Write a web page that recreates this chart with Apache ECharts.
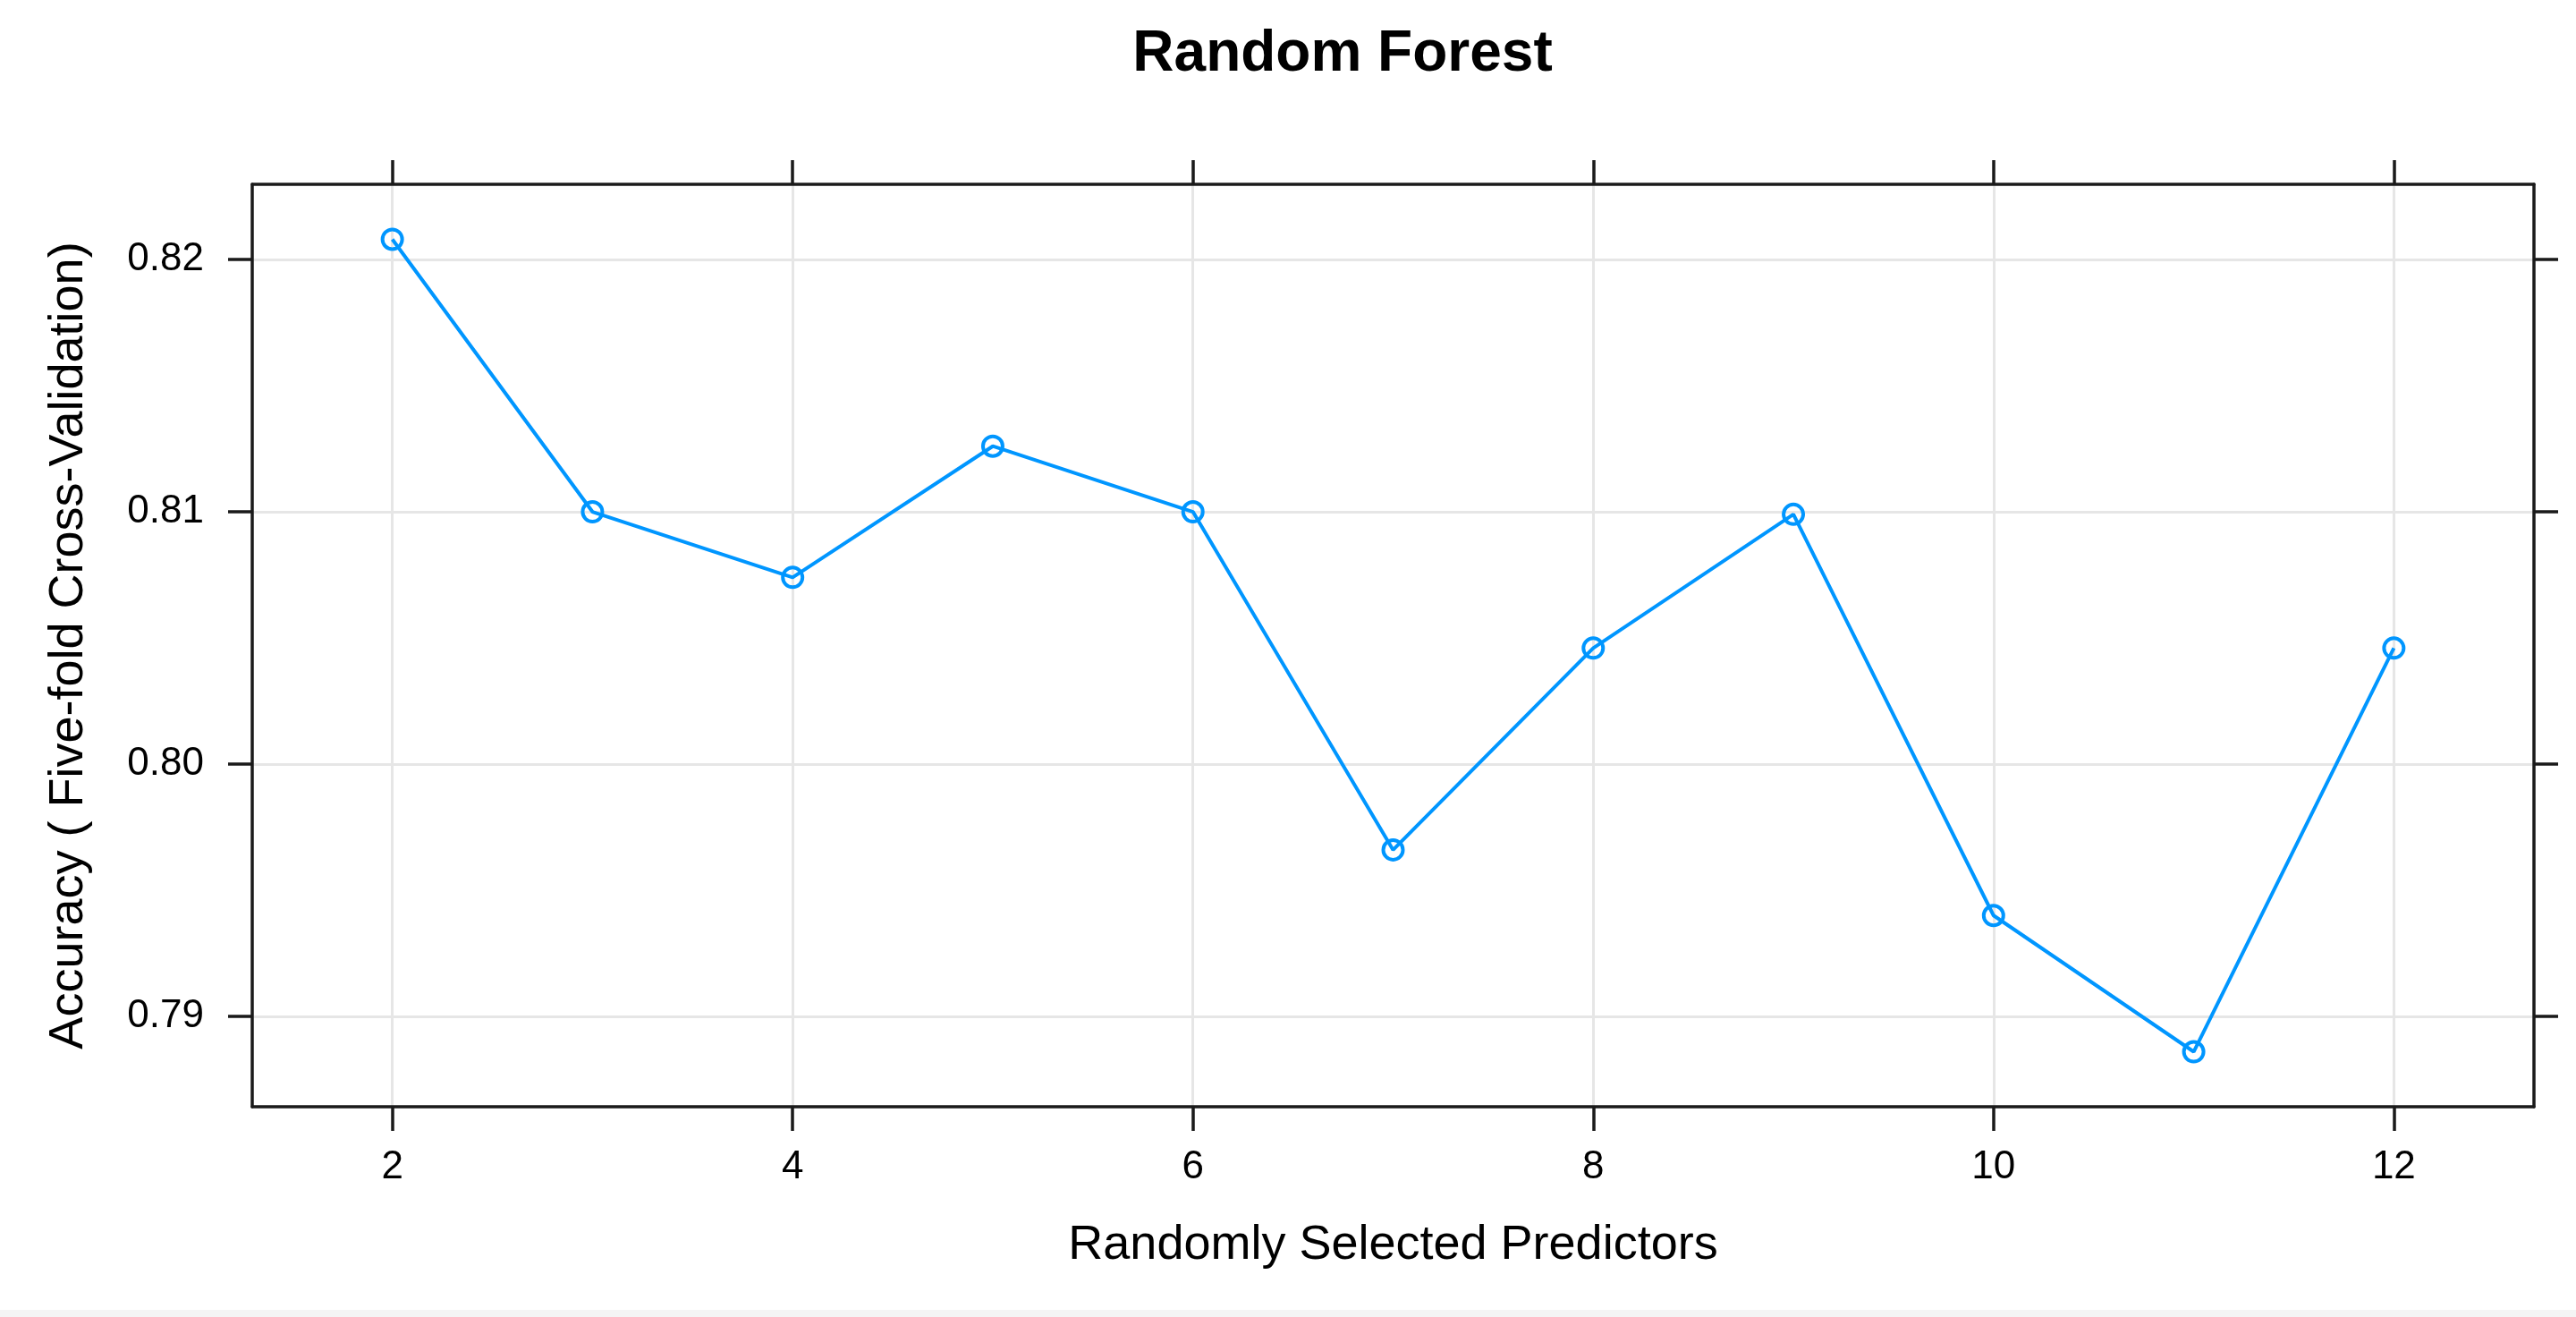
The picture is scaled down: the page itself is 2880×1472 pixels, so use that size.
<!DOCTYPE html>
<html>
<head>
<meta charset="utf-8">
<title>Random Forest</title>
<script src="https://cdn.jsdelivr.net/npm/echarts@6/dist/echarts.min.js"></script>
<style>
  html, body { margin: 0; padding: 0; background: #fff; }
  #main { width: 2880px; height: 1472px; }
</style>
</head>
<body>
<div id="main"></div>
<script>
// mtry values and CV accuracy
var predictors = [2, 3, 4, 5, 6, 7, 8, 9, 10, 11, 12];
var accuracy = [0.8208, 0.8100, 0.8074, 0.8126, 0.8100, 0.7966, 0.8046, 0.8099, 0.7940, 0.7886, 0.8046];
var xTicks = [2, 4, 6, 8, 10, 12];
var yTicks = [0.79, 0.80, 0.81, 0.82];

var FONT = '"Liberation Sans", Arial, Helvetica, sans-serif';
var lineColor = '#0096ff';

var seriesData = [];
for (var i = 0; i < predictors.length; i++) {
    seriesData.push([predictors[i], accuracy[i]]);
}

var boxLine = { show: true, onZero: false, lineStyle: { color: '#1a1a1a', width: 3.5 } };
var boxTick = { show: true, inside: false, length: 27, lineStyle: { color: '#1a1a1a', width: 3.5 } };

var myChart = echarts.init(document.getElementById('main'));
var option = {
    animation: false,
    backgroundColor: '#ffffff',
    title: {
        text: 'Random Forest',
        left: 1496,
        top: 24,
        textAlign: 'center',
        textStyle: { fontFamily: FONT, fontSize: 64, fontWeight: 'bold', color: '#000' }
    },
    grid: { left: 282, right: 47, top: 206, bottom: 235, containLabel: false },
    xAxis: [
        {
            type: 'value',
            position: 'bottom',
            min: 1.3,
            max: 12.7,
            name: 'Randomly Selected Predictors',
            nameLocation: 'middle',
            nameGap: 128,
            nameTextStyle: { fontFamily: FONT, fontSize: 54, color: '#000' },
            axisLine: boxLine,
            axisTick: Object.assign({}, boxTick, { customValues: xTicks }),
            axisLabel: {
                customValues: xTicks,
                margin: 46,
                fontFamily: FONT, fontSize: 44, color: '#000'
            },
            splitLine: { show: true, lineStyle: { color: '#e6e6e6', width: 3 } }
        },
        {
            type: 'value',
            position: 'top',
            min: 1.3,
            max: 12.7,
            axisLine: boxLine,
            axisTick: Object.assign({}, boxTick, { customValues: xTicks }),
            axisLabel: { show: false },
            splitLine: { show: false }
        }
    ],
    yAxis: [
        {
            type: 'value',
            position: 'left',
            min: 0.78642,
            max: 0.82298,
            name: 'Accuracy ( Five-fold Cross-Validation)',
            nameLocation: 'middle',
            nameRotate: 90,
            nameGap: 178,
            nameTextStyle: { fontFamily: FONT, fontSize: 54, color: '#000' },
            axisLine: boxLine,
            axisTick: Object.assign({}, boxTick, { customValues: yTicks }),
            axisLabel: {
                customValues: yTicks,
                margin: 54,
                fontFamily: FONT, fontSize: 44, color: '#000',
                formatter: function (v) { return v.toFixed(2); }
            },
            splitLine: { show: true, lineStyle: { color: '#e6e6e6', width: 3 } }
        },
        {
            type: 'value',
            position: 'right',
            min: 0.78642,
            max: 0.82298,
            axisLine: boxLine,
            axisTick: Object.assign({}, boxTick, { customValues: yTicks }),
            axisLabel: { show: false },
            splitLine: { show: false }
        }
    ],
    series: [
        {
            name: 'Accuracy',
            type: 'line',
            xAxisIndex: 0,
            yAxisIndex: 0,
            data: seriesData,
            symbol: 'circle',
            symbolSize: 22,
            lineStyle: { color: lineColor, width: 4 },
            itemStyle: { color: 'rgba(255,255,255,0)', borderColor: lineColor, borderWidth: 4 },
            z: 5
        }
    ],
    graphic: [
        {
            type: 'rect',
            shape: { x: 0, y: 1464, width: 2880, height: 8 },
            style: { fill: '#f4f4f4' },
            silent: true
        }
    ]
};
myChart.setOption(option);
</script>
</body>
</html>
